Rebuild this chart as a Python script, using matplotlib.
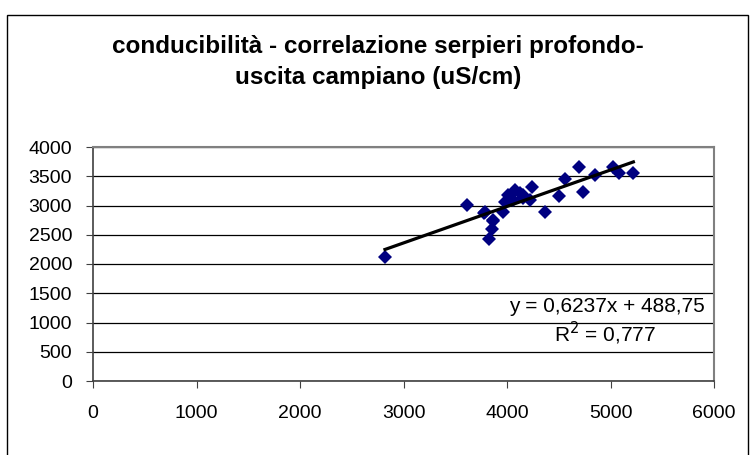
import matplotlib
matplotlib.use("Agg")
import matplotlib.pyplot as plt
from matplotlib.patches import Rectangle

plt.rcParams['font.family'] = ['Liberation Sans', 'DejaVu Sans']

# serpieri profondo (x) vs uscita campiano (y), uS/cm
x_vals = [2821, 3610, 3778, 3787, 3862, 3852, 3829, 3868, 3964, 3981, 4013, 4061,
          4077, 4126, 4157, 4150, 4222, 4244, 4367, 4502, 4560, 4692, 4731, 4850,
          5021, 5082, 5221]
y_vals = [2115, 3003, 2877, 2894, 2740, 2593, 2422, 2752, 2894, 3065, 3180, 3094,
          3265, 3208, 3122, 3180, 3094, 3311, 2894, 3162, 3447, 3652, 3236, 3515,
          3663, 3561, 3549]
slope = 0.6237
intercept = 488.75
eq_text = "y = 0,6237x + 488,75"
r2_text = "R$^2$ = 0,777"
title = "conducibilità - correlazione serpieri profondo-\nuscita campiano (uS/cm)"
x_ticks = [0, 1000, 2000, 3000, 4000, 5000, 6000]
y_ticks = [0, 500, 1000, 1500, 2000, 2500, 3000, 3500, 4000]

fig = plt.figure(figsize=(7.55, 4.55), dpi=100)
fig.patch.set_facecolor('white')
# outer chart border
fig.add_artist(Rectangle((7/755, -0.01), (748-7)/755, 1 - 15/455 + 0.01,
                         transform=fig.transFigure, fill=False,
                         edgecolor='black', linewidth=1.0))

ax = fig.add_axes([93/755, 1 - 381/455, (714-93)/755, (381-147)/455])
ax.set_xlim(0, 6000)
ax.set_ylim(0, 4000)
ax.set_xticks(x_ticks)
ax.set_yticks(y_ticks)
ax.set_xticklabels([str(t) for t in x_ticks])
ax.set_yticklabels([str(t) for t in y_ticks])
ax.tick_params(axis='both', labelsize=14, direction='out', length=5,
               color='#404040')
ax.tick_params(axis='y', pad=10)
ax.tick_params(axis='x', pad=12)
ax.yaxis.grid(True, color='black', linewidth=0.9)
ax.set_axisbelow(True)
for s in ['top', 'right']:
    ax.spines[s].set_color('#808080')
    ax.spines[s].set_linewidth(1.5)
for s in ['left', 'bottom']:
    ax.spines[s].set_color('#404040')
    ax.spines[s].set_linewidth(1.2)

ax.plot(x_vals, y_vals, linestyle='none', marker='D', markersize=7.3,
        color='#000080', markeredgewidth=0, zorder=3)
xmin, xmax = min(x_vals), max(x_vals)
ax.plot([xmin, xmax], [slope * xmin + intercept, slope * xmax + intercept],
        color='black', linewidth=2.3, zorder=4)

ax.text(705/755, 1 - 312/455, eq_text, transform=fig.transFigure,
        ha='right', va='baseline', fontsize=15)
ax.text(605/755, 1 - 342/455, r2_text, transform=fig.transFigure,
        ha='center', va='baseline', fontsize=15)

fig.text(378/755, 1 - 84/455, title, ha='center', va='baseline',
         fontsize=17.5, fontweight='bold', linespacing=1.42)

fig.savefig('out.png', dpi=100)
